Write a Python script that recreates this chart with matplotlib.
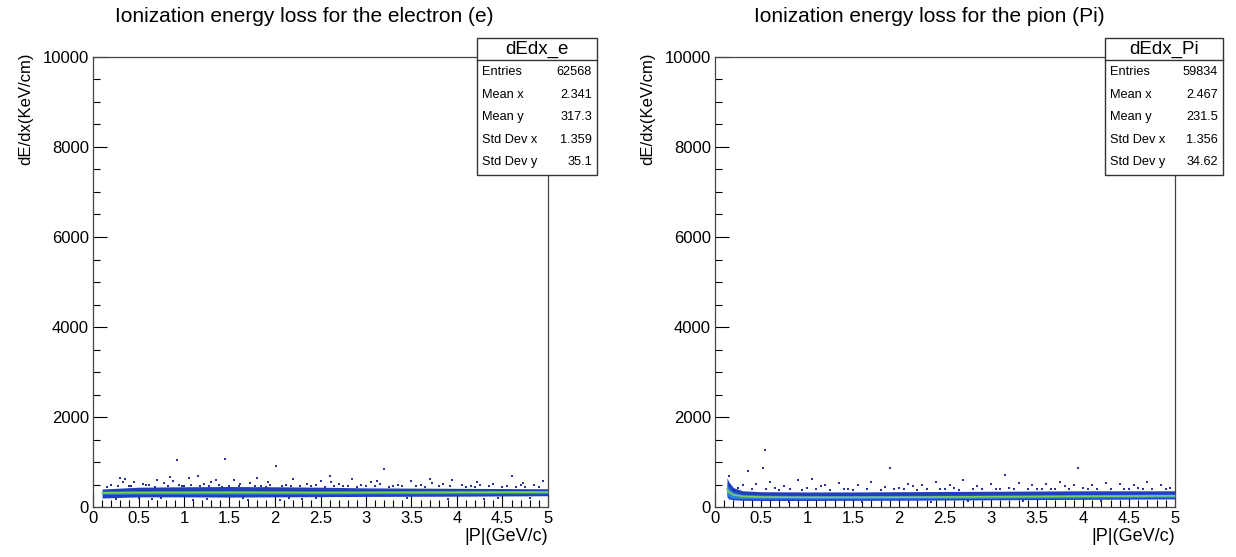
import matplotlib
matplotlib.use("Agg")
import matplotlib.pyplot as plt
from matplotlib.patches import Rectangle
from matplotlib.ticker import MultipleLocator

plt.rcParams['font.family'] = ['Liberation Sans', 'DejaVu Sans']

# ---------------- data ----------------
titles = ["Ionization energy loss for the electron (e)",
          "Ionization energy loss for the pion (Pi)"]
stat_names = ["dEdx_e", "dEdx_Pi"]
stat_labels = ["Entries", "Mean x", "Mean y", "Std Dev x", "Std Dev y"]
stats_e = ["62568", "2.341", "317.3", "1.359", "35.1"]
stats_pi = ["59834", "2.467", "231.5", "1.356", "34.62"]

# electron band
p_e = [0.1, 0.5, 1.0, 1.5, 2.0, 2.5, 3.0, 3.5, 4.0, 4.5, 5.0]
e_center = [315, 320, 322, 324, 322, 320, 322, 324, 326, 328, 330]
e_in_lo = [280, 285, 285, 285, 285, 285, 290, 290, 292, 295, 295]
e_in_hi = [355, 360, 362, 365, 360, 358, 358, 360, 362, 365, 365]
e_out_lo = [200, 225, 225, 220, 225, 230, 235, 238, 240, 245, 250]
e_out_hi = [400, 440, 450, 455, 450, 440, 425, 420, 415, 410, 405]

# isolated entries of the electron histogram
e_out_x = [0.92, 1.45, 2.01, 3.2, 4.6, 0.3, 0.35, 0.7, 0.85, 1.05, 1.3, 1.55, 1.8,
           2.2, 2.5, 2.85, 3.5, 3.7, 3.95, 4.95, 0.45, 1.15, 2.6, 3.05, 0.2, 0.55,
           0.62, 0.78, 0.95, 1.22, 1.38, 1.62, 1.72, 1.95, 2.12, 2.35, 2.45, 2.7,
           2.95, 3.15, 3.35, 3.6, 3.85, 4.05, 4.25, 4.4, 4.7, 4.85, 0.4, 1.0,
           1.85, 2.8, 3.3, 4.15, 4.55, 0.25, 0.65, 1.7, 2.3, 3.9, 1.1, 2.05, 4.3,
           0.15, 0.28, 0.42, 0.58, 0.68, 0.82, 0.98, 1.08, 1.18, 1.28, 1.42, 1.5,
           1.6, 1.78, 1.9, 2.08, 2.18, 2.28, 2.4, 2.55, 2.65, 2.75, 2.9, 3.0,
           3.1, 3.25, 3.4, 3.55, 3.65, 3.8, 3.92, 4.1, 4.2, 4.35, 4.5, 4.65,
           4.75, 4.9, 0.5, 0.75, 1.25, 1.65, 2.15, 2.45, 3.45, 4.45, 4.8,
           0.33, 0.88, 1.35, 1.92, 2.62, 3.12, 3.72, 4.22, 4.72]
e_out_y = [1044, 1066, 910, 844, 690, 650, 620, 600, 660, 640, 560, 600, 640,
           620, 580, 620, 580, 620, 600, 580, 560, 700, 680, 560, 480, 520,
           500, 540, 500, 520, 490, 510, 540, 500, 480, 520, 500, 510,
           490, 520, 500, 480, 510, 500, 490, 520, 500, 480, 470, 470,
           470, 470, 465, 470, 470, 180, 170, 160, 175, 180, 150, 165, 170,
           450, 470, 460, 480, 455, 470, 465, 480, 460, 470, 455, 475,
           460, 470, 455, 465, 470, 460, 475, 455, 465, 470, 455, 470,
           460, 455, 470, 460, 455, 465, 460, 455, 450, 460, 455, 450,
           455, 450, 190, 195, 185, 190, 195, 190, 200, 205, 210,
           560, 580, 600, 560, 560, 580, 540, 560, 540]

# pion band
p_pi = [0.13, 0.15, 0.2, 0.3, 0.5, 1.0, 1.5, 2.0, 2.5, 3.0, 3.5, 4.0, 4.5, 5.0]
pi_center = [400, 330, 270, 235, 222, 215, 215, 218, 222, 228, 232, 238, 242, 248]
pi_in_lo = [260, 220, 190, 185, 180, 178, 180, 182, 186, 190, 195, 200, 205, 210]
pi_in_hi = [520, 420, 330, 280, 265, 255, 255, 258, 262, 268, 272, 278, 282, 288]
pi_out_lo = [220, 180, 160, 150, 145, 145, 148, 150, 155, 160, 165, 170, 175, 180]
pi_out_hi = [650, 560, 430, 360, 340, 335, 335, 340, 345, 350, 355, 360, 360, 360]

# isolated entries of the pion histogram
pi_out_x = [0.54, 0.36, 0.52, 1.9, 3.95, 3.15, 1.05, 0.15, 0.3, 0.45, 0.6, 0.75,
            0.9, 1.2, 1.35, 1.55, 1.7, 1.85, 2.1, 2.25, 2.4, 2.55, 2.7, 2.85,
            3.0, 3.3, 3.45, 3.6, 3.75, 3.9, 4.1, 4.25, 4.4, 4.55, 4.7, 4.85,
            0.25, 0.65, 1.0, 1.45, 2.0, 2.6, 3.2, 3.55, 4.0, 4.6, 4.95, 2.35,
            0.2, 0.4, 0.55, 0.7, 0.82, 0.95, 1.1, 1.25, 1.4, 1.5, 1.65, 1.8,
            1.95, 2.05, 2.2, 2.3, 2.45, 2.5, 2.65, 2.8, 2.9, 3.05, 3.1, 3.25,
            3.4, 3.5, 3.65, 3.7, 3.85, 4.05, 4.15, 4.3, 4.45, 4.5, 4.65, 4.75,
            4.9, 0.8, 1.6, 2.75, 3.35, 4.2, 1.15, 2.15, 3.8]
pi_out_y = [1265, 800, 866, 866, 866, 710, 620, 700, 480, 520, 560, 470,
            600, 500, 540, 480, 560, 450, 520, 480, 560, 500, 600, 470,
            520, 540, 480, 520, 560, 500, 480, 540, 520, 500, 560, 480,
            420, 430, 420, 410, 430, 420, 430, 410, 420, 430, 420, 110,
            380, 390, 400, 385, 395, 380, 390, 385, 395, 380, 390, 385,
            395, 390, 385, 395, 390, 400, 385, 395, 390, 400, 395, 390,
            400, 395, 405, 390, 400, 395, 405, 400, 395, 405, 400, 410,
            405, 120, 115, 125, 130, 135, 470, 460, 470]

# ---------------- figure ----------------
fig = plt.figure(figsize=(12.36, 5.57), dpi=100)
W, H = 1236, 557

def fx(px):
    return px / W

def fy(py):
    return 1 - py / H

axes_px = [(93, 548), (715, 1175)]
c_dark = '#1f3fbf'
c_mid = '#2a7fe0'
c_green = '#7fcf55'
c_dot = '#2a3396'

bands = [
    (p_e, e_center, e_in_lo, e_in_hi, e_out_lo, e_out_hi, e_out_x, e_out_y),
    (p_pi, pi_center, pi_in_lo, pi_in_hi, pi_out_lo, pi_out_hi, pi_out_x, pi_out_y),
]
stat_vals = [stats_e, stats_pi]
box_px = [(477, 597), (1105, 1223)]

for i in range(2):
    x0, x1 = axes_px[i]
    ax = fig.add_axes([fx(x0), fy(507), fx(x1) - fx(x0), fy(57) - fy(507)])
    p, c, ilo, ihi, olo, ohi, ox, oy = bands[i]
    ax.fill_between(p, olo, ohi, color=c_dark, lw=0, zorder=2)
    ax.fill_between(p, ilo, ihi, color=c_mid, lw=0, zorder=3)
    ax.plot(p, c, color=c_green, lw=1.2, zorder=4)
    ax.scatter(ox, oy, marker='s', s=3, color=c_dot, lw=0, zorder=5)
    ax.set_xlim(0, 5)
    ax.set_ylim(0, 10000)
    ax.xaxis.set_major_locator(MultipleLocator(0.5))
    ax.xaxis.set_minor_locator(MultipleLocator(0.1))
    ax.yaxis.set_major_locator(MultipleLocator(2000))
    ax.yaxis.set_minor_locator(MultipleLocator(500))
    ax.set_xticks([0, 0.5, 1, 1.5, 2, 2.5, 3, 3.5, 4, 4.5, 5])
    ax.set_xticklabels(["0", "0.5", "1", "1.5", "2", "2.5", "3", "3.5", "4", "4.5", "5"])
    ax.tick_params(which='both', direction='in', top=False, right=False,
                   labelsize=12, colors='black', width=0.8)
    ax.tick_params(which='major', length=10, pad=3)
    ax.tick_params(which='minor', length=5)
    for s in ax.spines.values():
        s.set_color('#444444')
        s.set_linewidth(0.9)
    ax.set_xlabel("|P|(GeV/c)", fontsize=13, loc='right', labelpad=1)
    ax.set_ylabel("dE/dx(KeV/cm)", fontsize=12, loc='top', labelpad=7)
    ax.yaxis.label.set_y(1.01)
    fig.text(fx((x0 + x1) / 2 - 16), fy(17), titles[i], fontsize=15,
             ha='center', va='center')

    # stats box
    bx0, bx1 = box_px[i]
    by0, by1 = 38, 175
    rect = Rectangle((fx(bx0), fy(by1)), fx(bx1) - fx(bx0), fy(by0) - fy(by1),
                     transform=fig.transFigure, facecolor='white',
                     edgecolor='#333333', lw=1, zorder=10)
    fig.add_artist(rect)
    fig.add_artist(plt.Line2D([fx(bx0), fx(bx1)], [fy(60), fy(60)],
                              transform=fig.transFigure, color='#333333', lw=1, zorder=11))
    fig.text(fx((bx0 + bx1) / 2), fy(49), stat_names[i], fontsize=13.5,
             ha='center', va='center', zorder=12)
    rows_y = [72, 95, 117, 140, 162]
    for lab, val, ry in zip(stat_labels, stat_vals[i], rows_y):
        fig.text(fx(bx0 + 5), fy(ry), lab, fontsize=9.2, ha='left', va='center', zorder=12)
        fig.text(fx(bx1 - 5), fy(ry), val, fontsize=9.2, ha='right', va='center', zorder=12)

fig.savefig("out.png", dpi=100)
